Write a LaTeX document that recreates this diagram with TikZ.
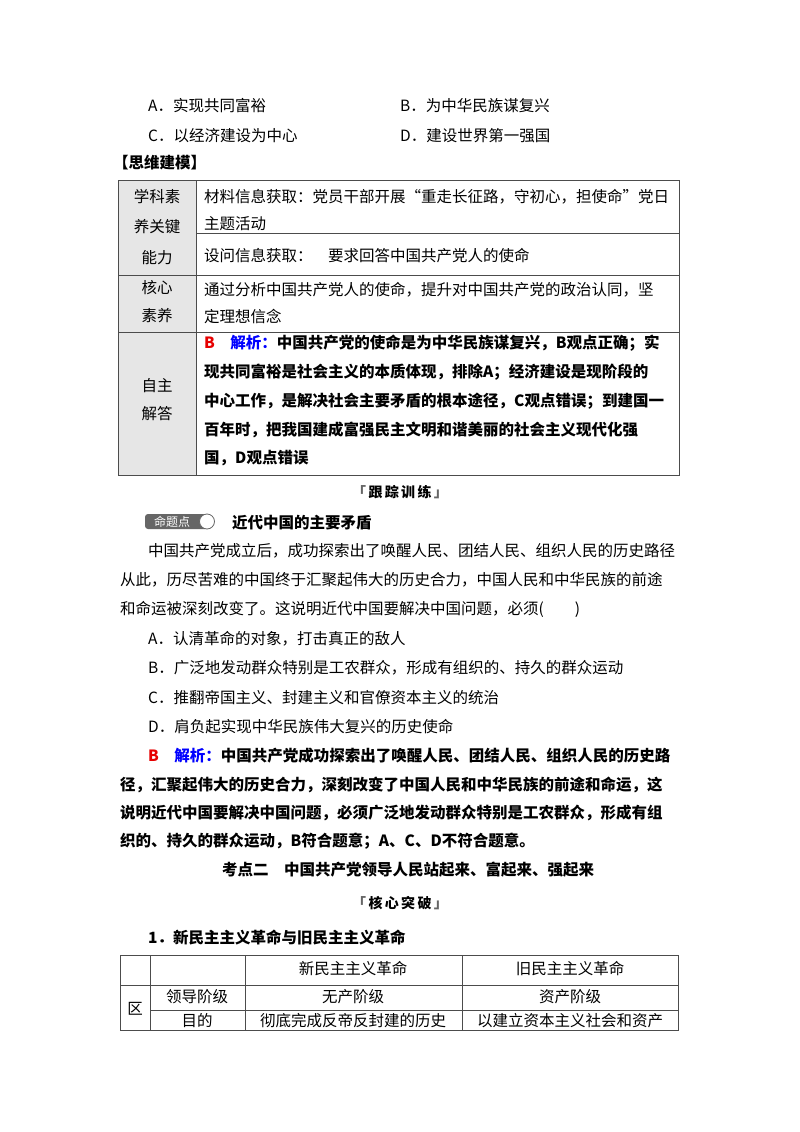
\documentclass[tikz,border=0pt]{standalone}
\usepackage{fontspec}
\setmainfont{Noto Sans CJK SC}
\definecolor{cellgray}{HTML}{E6E6E6}
\definecolor{ansred}{HTML}{E60000}
\definecolor{ansblue}{HTML}{0000FF}
\begin{document}
\begin{tikzpicture}[x=1pt,y=-1pt,
  t/.style={anchor=west, inner sep=0pt, font=\fontsize{15.5}{16}\selectfont},
  tb/.style={t, font=\fontsize{15.5}{16}\selectfont\bfseries},
  tc/.style={t, anchor=center},
  grid/.style={draw=black!70, line width=0.8pt},
  sec/.style={tc, font=\fontsize{14}{14}\selectfont\bfseries}]
\useasboundingbox (0,0) rectangle (800,1132);
\fill[white] (0,0) rectangle (800,1132);
% options
\node[t] (oa) at (148,106) {A．实现共同富裕};
\node[t] (ob) at (400,106) {B．为中华民族谋复兴};
\node[t] (oc) at (148,136) {C．以经济建设为中心};
\node[t] (od) at (400,136) {D．建设世界第一强国};
\node[tb] (hd) at (113,163) {【思维建模】};
% table 1
\fill[cellgray] (118,180) rectangle (196,475);
\draw[grid] (118,180) rectangle (679,475);
\draw[grid] (196,180) -- (196,475);
\draw[grid] (196,233) -- (679,233);
\draw[grid] (118,275) -- (679,275);
\draw[grid] (118,332) -- (679,332);
\node[tc] (l1) at (157,197) {学科素};
\node[tc] (l2) at (157,227) {养关键};
\node[tc] (l3) at (157,258) {能力};
\node[tc] (l4) at (157,288) {核心};
\node[tc] (l5) at (157,316) {素养};
\node[tc] (l6) at (157,386) {自主};
\node[tc] (l7) at (157,414) {解答};
\node[t] (r1) at (204,197) {材料信息获取：党员干部开展“重走长征路，守初心，担使命”党日};
\node[t] (r2) at (204,224) {主题活动};
\node[t] (r3) at (204,256) {设问信息获取：\quad 要求回答中国共产党人的使命};
\node[t] (r4) at (204,290) {通过分析中国共产党人的使命，提升对中国共产党的政治认同，坚};
\node[t] (r5) at (204,316) {定理想信念};
\node[tb] (r6) at (204,343) {\textcolor{ansred}{B}\quad\textcolor{ansblue}{解析：}中国共产党的使命是为中华民族谋复兴，B观点正确；实};
\node[tb] (r7) at (204,372) {现共同富裕是社会主义的本质体现，排除A；经济建设是现阶段的};
\node[tb] (r8) at (204,401) {中心工作，是解决社会主要矛盾的根本途径，C观点错误；到建国一};
\node[tb] (r9) at (204,430) {百年时，把我国建成富强民主文明和谐美丽的社会主义现代化强};
\node[tb] (r10) at (204,458) {国，D观点错误};
% tracking
\node[sec] (gz) at (400,492) {\textcolor{black!60}{「}\,跟\,踪\,训\,练\,\textcolor{black!60}{」}};
% badge
\fill[black!60, rounded corners=3pt] (145,514) rectangle (208,529);
\node[tc, text=white, font=\fontsize{12}{12}\selectfont] (bd) at (172,521.5) {命题点};
\draw[black!60, fill=white, line width=0.8pt] (207,521.5) circle (7.5);
\node[tb] (tt) at (232,523) {近代中国的主要矛盾};
% paragraph
\node[t] (p1) at (148,551) {中国共产党成立后，成功探索出了唤醒人民、团结人民、组织人民的历史路径};
\node[t] (p2) at (120,580) {从此，历尽苦难的中国终于汇聚起伟大的历史合力，中国人民和中华民族的前途};
\node[t] (p3) at (120,609) {和命运被深刻改变了。这说明近代中国要解决中国问题，必须(\qquad )};
\node[t] (pa) at (148,639) {A．认清革命的对象，打击真正的敌人};
\node[t] (pb) at (148,668) {B．广泛地发动群众特别是工农群众，形成有组织的、持久的群众运动};
\node[t] (pc) at (148,698) {C．推翻帝国主义、封建主义和官僚资本主义的统治};
\node[t] (pd) at (148,727) {D．肩负起实现中华民族伟大复兴的历史使命};
\node[tb] (e1) at (148,756) {\textcolor{ansred}{B}\quad\textcolor{ansblue}{解析：}中国共产党成功探索出了唤醒人民、团结人民、组织人民的历史路};
\node[tb] (e2) at (120,785) {径，汇聚起伟大的历史合力，深刻改变了中国人民和中华民族的前途和命运，这};
\node[tb] (e3) at (120,813) {说明近代中国要解决中国问题，必须广泛地发动群众特别是工农群众，形成有组};
\node[tb] (e4) at (120,841) {织的、持久的群众运动，B符合题意；A、C、D不符合题意。};
\node[tb] (k2) at (222,870) {考点二\quad 中国共产党领导人民站起来、富起来、强起来};
\node[sec] (hx) at (400,903) {\textcolor{black!60}{「}\,核\,心\,突\,破\,\textcolor{black!60}{」}};
\node[tb] (s1) at (148,937) {1．新民主主义革命与旧民主主义革命};
% table 2
\draw[grid] (120,955) rectangle (678,1030);
\draw[grid] (150,955) -- (150,1030);
\draw[grid] (245,955) -- (245,1030);
\draw[grid] (462,955) -- (462,1030);
\draw[grid] (120,985) -- (678,985);
\draw[grid] (150,1010) -- (678,1010);
\node[tc] (h1) at (353,969) {新民主主义革命};
\node[tc] (h2) at (570,969) {旧民主主义革命};
\node[tc] (qu) at (135,1009) {区};
\node[tc] (c1) at (197,997) {领导阶级};
\node[tc] (c2) at (353,997) {无产阶级};
\node[tc] (c3) at (570,997) {资产阶级};
\node[tc] (d1) at (197,1021) {目的};
\node[tc] (d2) at (353,1021) {彻底完成反帝反封建的历史};
\node[tc] (d3) at (570,1021) {以建立资本主义社会和资产};
\end{tikzpicture}
\end{document}
